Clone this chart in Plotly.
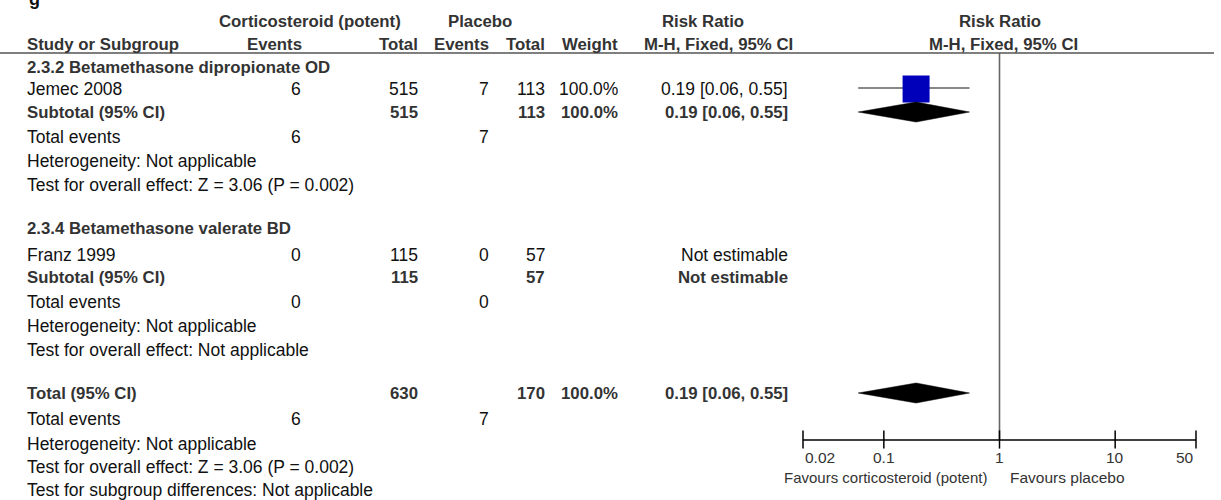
import numpy as np
import plotly.graph_objects as go

W, H = 1221, 500

# ---- data -------------------------------------------------------------
group_titles = ["2.3.2 Betamethasone dipropionate OD", "2.3.4 Betamethasone valerate BD"]
study_names = ["Jemec 2008", "Franz 1999"]
cs_events = [6, 0]
cs_totals = [515, 115]
pl_events = [7, 0]
pl_totals = [113, 57]
study_weights = ["100.0%", ""]
study_rr = [0.19, None]
study_lo = [0.06, None]
study_hi = [0.55, None]
study_rr_text = ["0.19 [0.06, 0.55]", "Not estimable"]

sub_cs_totals = [515, 115]
sub_pl_totals = [113, 57]
sub_weights = ["100.0%", ""]
sub_rr = [0.19, None]
sub_lo = [0.06, None]
sub_hi = [0.55, None]
sub_rr_text = ["0.19 [0.06, 0.55]", "Not estimable"]
sub_cs_events = [6, 0]
sub_pl_events = [7, 0]
sub_heterogeneity = ["Heterogeneity: Not applicable", "Heterogeneity: Not applicable"]
sub_overall = ["Test for overall effect: Z = 3.06 (P = 0.002)", "Test for overall effect: Not applicable"]

total_cs_total = 630
total_pl_total = 170
total_weight = "100.0%"
total_rr, total_lo, total_hi = 0.19, 0.06, 0.55
total_rr_text = "0.19 [0.06, 0.55]"
total_cs_events = 6
total_pl_events = 7
total_notes = ["Heterogeneity: Not applicable",
               "Test for overall effect: Z = 3.06 (P = 0.002)",
               "Test for subgroup differences: Not applicable"]

tick_vals = [0.02, 0.1, 1, 10, 50]
tick_text = ["0.02", "0.1", "1", "10", "50"]
favours_left = "Favours corticosteroid (potent)"
favours_right = "Favours placebo"

# ---- layout constants (pixels) ---------------------------------------
FONT = "Liberation Sans, Arial, Helvetica, sans-serif"
FS = 17.5        # body text
FSB = 16.8       # bold text
FS_AX = 15.5     # axis labels
DARK = "#333333"
BLACK = "#111111"

X_LABEL = 27
X_CS_EV = 301      # right edge
X_CS_TOT = 418
X_PL_EV = 489
X_PL_TOT = 545
X_WEIGHT = 618
X_CI = 788
PLOT_L, PLOT_R = 803, 1196
Y_RULE = 53
Y_AXIS = 440
Y_TICKLAB = 457
Y_FAV = 477

group_rows = [
    dict(title=67, study=89, sub=112, ev=137, het=161, test=185),
    dict(title=228, study=255, sub=277, ev=302, het=326, test=350),
]
total_rows = dict(tot=393, ev=419, het=444, test=467, sub=490)

annotations = []


def txt(x, y, s, anchor="left", bold=False, color=BLACK, size=None):
    if size is None:
        size = FSB if bold else FS
    annotations.append(dict(
        x=x / W, xref="paper", y=y, yref="y", text=f"<b>{s}</b>" if bold else s,
        showarrow=False, xanchor=anchor, yanchor="middle",
        font=dict(family=FONT, size=size, color=color),
        borderpad=0, borderwidth=0,
    ))


# figure tag cut off at the top edge
annotations.append(dict(x=27 / W, xref="paper", y=(H + 1) / H, yref="paper", text="<b>g</b>",
                        showarrow=False, xanchor="left", yanchor="middle",
                        font=dict(family=FONT, size=18, color=BLACK)))

# header block
txt(310, 21, "Corticosteroid (potent)", "center", True, DARK)
txt(480, 21, "Placebo", "center", True, DARK)
txt(703, 21, "Risk Ratio", "center", True, DARK)
txt(1000, 21, "Risk Ratio", "center", True, DARK)
txt(X_LABEL, 44, "Study or Subgroup", "left", True, DARK)
txt(274, 44, "Events", "center", True, DARK)
txt(X_CS_TOT, 44, "Total", "right", True, DARK)
txt(X_PL_EV, 44, "Events", "right", True, DARK)
txt(X_PL_TOT, 44, "Total", "right", True, DARK)
txt(X_WEIGHT, 44, "Weight", "right", True, DARK)
txt(718, 44, "M-H, Fixed, 95% CI", "center", True, DARK)
txt(1003, 44, "M-H, Fixed, 95% CI", "center", True, DARK)

# subgroup blocks
for i, r in enumerate(group_rows):
    txt(X_LABEL, r["title"], group_titles[i], bold=True, color=DARK)
    txt(X_LABEL, r["study"], study_names[i])
    txt(X_CS_EV, r["study"], str(cs_events[i]), "right")
    txt(X_CS_TOT, r["study"], str(cs_totals[i]), "right")
    txt(X_PL_EV, r["study"], str(pl_events[i]), "right")
    txt(X_PL_TOT, r["study"], str(pl_totals[i]), "right")
    if study_weights[i]:
        txt(X_WEIGHT, r["study"], study_weights[i], "right")
    txt(X_CI, r["study"], study_rr_text[i], "right")

    txt(X_LABEL, r["sub"], "Subtotal (95% CI)", bold=True, color=DARK)
    txt(X_CS_TOT, r["sub"], str(sub_cs_totals[i]), "right", True, DARK)
    txt(X_PL_TOT, r["sub"], str(sub_pl_totals[i]), "right", True, DARK)
    if sub_weights[i]:
        txt(X_WEIGHT, r["sub"], sub_weights[i], "right", True, DARK)
    txt(X_CI, r["sub"], sub_rr_text[i], "right", True, DARK)

    txt(X_LABEL, r["ev"], "Total events")
    txt(X_CS_EV, r["ev"], str(sub_cs_events[i]), "right")
    txt(X_PL_EV, r["ev"], str(sub_pl_events[i]), "right")
    txt(X_LABEL, r["het"], sub_heterogeneity[i])
    txt(X_LABEL, r["test"], sub_overall[i])

# overall block
t = total_rows
txt(X_LABEL, t["tot"], "Total (95% CI)", bold=True, color=DARK)
txt(X_CS_TOT, t["tot"], str(total_cs_total), "right", True, DARK)
txt(X_PL_TOT, t["tot"], str(total_pl_total), "right", True, DARK)
txt(X_WEIGHT, t["tot"], total_weight, "right", True, DARK)
txt(X_CI, t["tot"], total_rr_text, "right", True, DARK)
txt(X_LABEL, t["ev"], "Total events")
txt(X_CS_EV, t["ev"], str(total_cs_events), "right")
txt(X_PL_EV, t["ev"], str(total_pl_events), "right")
txt(X_LABEL, t["het"], total_notes[0])
txt(X_LABEL, t["test"], total_notes[1])
txt(X_LABEL, t["sub"], total_notes[2])

# favours labels either side of the line of no effect
annotations.append(dict(x=np.log10(1), xref="x", y=Y_FAV, yref="y", text=favours_left,
                        showarrow=False, xanchor="right", yanchor="middle", xshift=-11,
                        font=dict(family=FONT, size=15, color=DARK)))
annotations.append(dict(x=np.log10(1), xref="x", y=Y_FAV, yref="y", text=favours_right,
                        showarrow=False, xanchor="left", yanchor="middle", xshift=8,
                        font=dict(family=FONT, size=15.5, color=DARK)))

# tick labels: end labels sit inside the axis span
tick_anchor = ["left"] + ["center"] * (len(tick_vals) - 2) + ["right"]
for v, lab, anc in zip(tick_vals, tick_text, tick_anchor):
    annotations.append(dict(x=np.log10(v), xref="x", y=Y_TICKLAB, yref="y", text=lab,
                            showarrow=False, xanchor=anc, yanchor="middle",
                            font=dict(family=FONT, size=FS_AX, color=DARK)))

fig = go.Figure()

# line of no effect
fig.add_trace(go.Scatter(x=[1, 1], y=[Y_RULE, Y_AXIS], mode="lines",
                         line=dict(color="#666666", width=1.6), hoverinfo="skip"))

# study confidence intervals and weighted squares
for i, r in enumerate(group_rows):
    if study_rr[i] is None:
        continue
    fig.add_trace(go.Scatter(x=[study_lo[i], study_hi[i]], y=[r["study"] - 1, r["study"] - 1],
                             mode="lines", line=dict(color="#888888", width=2), hoverinfo="skip"))
    fig.add_trace(go.Scatter(x=[study_rr[i]], y=[r["study"]], mode="markers",
                             marker=dict(symbol="square", size=27, color="#0000BB",
                                         line=dict(width=0)), hoverinfo="skip"))


def diamond(est, lo, hi, yc, half=10):
    fig.add_trace(go.Scatter(x=[lo, est, hi, est, lo], y=[yc, yc - half, yc, yc + half, yc],
                             mode="lines", fill="toself", fillcolor="black",
                             line=dict(color="black", width=0.5), hoverinfo="skip"))


for i, r in enumerate(group_rows):
    if sub_rr[i] is not None:
        diamond(sub_rr[i], sub_lo[i], sub_hi[i], r["sub"])
diamond(total_rr, total_lo, total_hi, t["tot"])

# axis line and ticks
fig.add_trace(go.Scatter(x=[tick_vals[0], tick_vals[-1]], y=[Y_AXIS, Y_AXIS], mode="lines",
                         line=dict(color="black", width=1.5), hoverinfo="skip"))
fig.add_trace(go.Scatter(x=tick_vals, y=[Y_AXIS - 0.5] * len(tick_vals), mode="markers",
                         cliponaxis=False,
                         marker=dict(symbol="line-ns", size=13,
                                     line=dict(color="black", width=1.5)),
                         hoverinfo="skip"))

fig.update_layout(
    width=W, height=H, autosize=False,
    margin=dict(l=0, r=0, t=0, b=0, pad=0),
    paper_bgcolor="white", plot_bgcolor="white",
    showlegend=False,
    annotations=annotations,
    shapes=[dict(type="line", xref="paper", yref="y", x0=0, x1=1214 / W, y0=Y_RULE, y1=Y_RULE,
                 line=dict(color="#555555", width=1.5))],
    xaxis=dict(type="log", range=[np.log10(0.02), np.log10(50)],
               domain=[PLOT_L / W, PLOT_R / W], visible=False, fixedrange=True),
    yaxis=dict(range=[H, 0], domain=[0, 1], visible=False, fixedrange=True),
)

fig.write_html("out.html")
